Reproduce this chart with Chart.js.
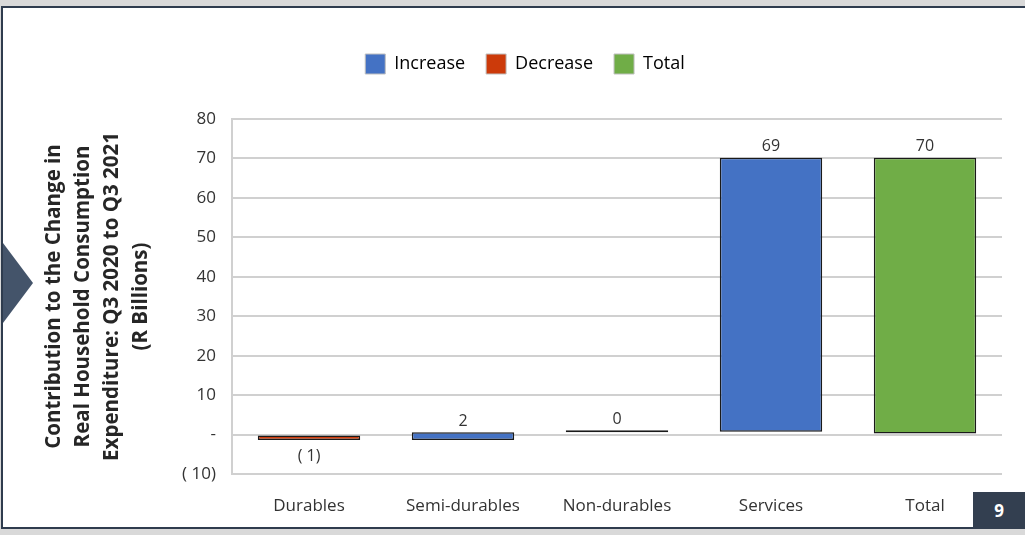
<!DOCTYPE html>
<html>
<head>
<meta charset="utf-8">
<title>Household consumption contributions</title>
<script src="https://cdn.jsdelivr.net/npm/chart.js@4/dist/chart.umd.min.js"></script>
<style>
  html, body { margin: 0; padding: 0; width: 1025px; height: 535px; overflow: hidden; background: #d9d9d9; }
  #panel { position: absolute; left: 1px; top: 6px; width: 1024px; height: 523px; box-sizing: border-box;
           background: #ffffff; border-top: 2px solid #2f3c4e; border-left: 2px solid #2f3c4e; border-bottom: 2px solid #2f3c4e; }
  #pointer { position: absolute; left: 3px; top: 243px; width: 0; height: 0;
             border-left: 30px solid #44546a; border-top: 40px solid transparent; border-bottom: 40px solid transparent; }
  #pageNo { position: absolute; left: 973px; top: 492px; width: 52px; height: 37px; background: #333f50; color: #ffffff;
            font: bold 17px "Open Sans", sans-serif; display: flex; align-items: center; justify-content: center; }
  #chartBox { position: absolute; left: 0; top: 0; width: 1025px; height: 535px; }
</style>
</head>
<body>
<div id="panel"></div>
<div id="pointer"></div>
<div id="pageNo">9</div>
<div id="chartBox"><canvas id="chart" width="1025" height="535"></canvas></div>
<script>
// Components of the change in real household consumption expenditure (R billions)
const categories = ['Durables', 'Semi-durables', 'Non-durables', 'Services', 'Total'];
const componentChanges = [-1.4, 2.0, 0.1, 69.45];
const totalChange = 70.15;
const yMin = -10;
const yMax = 80;
const yStep = 10;

const seriesNames = ['Increase', 'Decrease', 'Total'];
const seriesColors = ['#4472c4', '#cc3a0a', '#70ad47'];

// Build floating [start, end] ranges for the waterfall steps
const increaseRanges = [];
const decreaseRanges = [];
const totalRanges = [];
const barChanges = [];
let running = 0;
componentChanges.forEach(function (c) {
  const start = running;
  running += c;
  increaseRanges.push(c >= 0 ? [start, running] : null);
  decreaseRanges.push(c < 0 ? [start, running] : null);
  totalRanges.push(null);
  barChanges.push(c);
});
increaseRanges.push(null);
decreaseRanges.push(null);
totalRanges.push([0, totalChange]);
barChanges.push(totalChange);

function accountingFormat(v) {
  const r = Math.round(Math.abs(v));
  if (v < 0 && r !== 0) return '( ' + r + ')';
  return String(r);
}

function tickFormat(v) {
  if (v === 0) return '-';
  if (v < 0) return '( ' + Math.abs(v) + ')';
  return String(v);
}

const FONT = "'Open Sans', 'DejaVu Sans', sans-serif";
Chart.defaults.font.family = FONT;
Chart.defaults.color = '#333333';

// Value labels above rising bars and below falling ones
const valueLabels = {
  id: 'valueLabels',
  afterDatasetsDraw(chart) {
    const ctx = chart.ctx;
    ctx.save();
    ctx.font = '16px ' + FONT;
    ctx.fillStyle = '#333333';
    ctx.textAlign = 'center';
    ctx.textBaseline = 'middle';
    chart.data.datasets.forEach(function (ds, i) {
      const meta = chart.getDatasetMeta(i);
      meta.data.forEach(function (bar, j) {
        if (ds.data[j] == null) return;
        const v = barChanges[j];
        const top = Math.min(bar.y, bar.base);
        const bottom = Math.max(bar.y, bar.base);
        if (v >= 0) ctx.fillText(accountingFormat(v), bar.x, top - 11);
        else ctx.fillText(accountingFormat(v), bar.x, bottom + 16);
      });
    });
    ctx.restore();
  }
};

// Fixed legend band height and horizontal placement
const legendBand = {
  id: 'legendBand',
  beforeInit(chart) {
    const fit = chart.legend.fit;
    chart.legend.fit = function () {
      fit.call(this);
      this.height = 86;
    };
    const draw = chart.legend.draw;
    chart.legend.draw = function (area) {
      this.ctx.save();
      this.ctx.translate(9, 0);
      draw.call(this, area);
      this.ctx.restore();
    };
  }
};

const ranges = [increaseRanges, decreaseRanges, totalRanges];

new Chart(document.getElementById('chart'), {
  type: 'bar',
  data: {
    labels: categories,
    datasets: seriesNames.map(function (name, i) {
      return {
        label: name,
        data: ranges[i],
        backgroundColor: seriesColors[i],
        borderColor: '#1a1a1a',
        borderWidth: 1.5,
        borderSkipped: false,
        grouped: false,
        categoryPercentage: 1,
        barPercentage: 0.665,
        minBarLength: 2
      };
    })
  },
  options: {
    responsive: false,
    devicePixelRatio: 1,
    animation: false,
    layout: { padding: { top: 33, left: 30, right: 23, bottom: 17 } },
    plugins: {
      tooltip: { enabled: false },
      legend: {
        position: 'top',
        labels: {
          boxWidth: 20,
          boxHeight: 20,
          padding: 21,
          color: '#333333',
          font: { size: 18 },
          generateLabels(chart) {
            return chart.data.datasets.map(function (ds, i) {
              return {
                text: ds.label,
                fillStyle: seriesColors[i],
                strokeStyle: '#bfbfbf',
                lineWidth: 1,
                hidden: false,
                datasetIndex: i
              };
            });
          }
        }
      }
    },
    scales: {
      x: {
        grid: { display: false, drawTicks: false },
        border: { display: false },
        ticks: { padding: 22, font: { size: 17 }, color: '#333333', maxRotation: 0 },
        afterFit(scale) { scale.height = 44; }
      },
      y: {
        min: yMin,
        max: yMax,
        ticks: {
          stepSize: yStep,
          padding: 16,
          font: { size: 17 },
          color: '#333333',
          callback: function (v) { return tickFormat(v); }
        },
        grid: { color: '#d0d0d0', lineWidth: 2, drawTicks: false },
        border: { display: true, color: '#d0d0d0', width: 2 },
        title: {
          display: true,
          text: ['Contribution to the Change in', 'Real Household Consumption', 'Expenditure: Q3 2020 to Q3 2021', '(R Billions)'],
          color: '#262626',
          font: { size: 20.5, weight: 'bold', lineHeight: '29px' },
          padding: { top: 10, bottom: 0 }
        },
        afterFit(scale) { scale.width = 202; }
      }
    }
  },
  plugins: [valueLabels, legendBand]
});
</script>
</body>
</html>
